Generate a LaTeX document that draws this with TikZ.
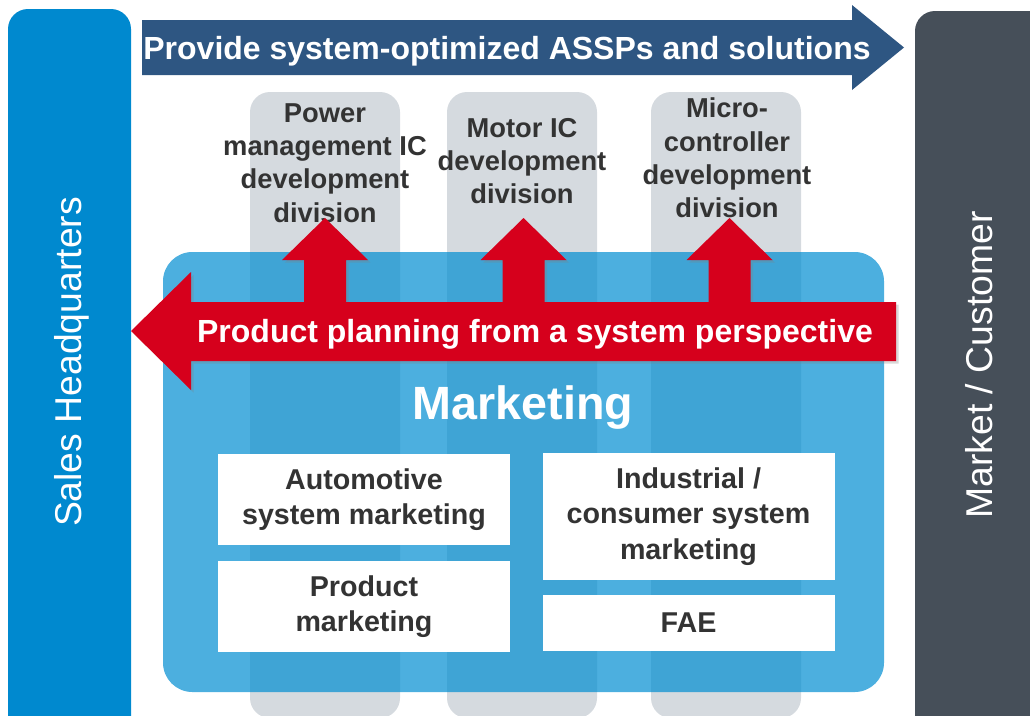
\documentclass[tikz,border=0pt]{standalone}
\usepackage{fontspec}
\setmainfont{Liberation Sans}
\usepackage{xcolor}
\usepackage{tikz}
\usetikzlibrary{shadows}
\definecolor{salesblue}{HTML}{0089CF}
\definecolor{mktblue}{HTML}{038ED2}
\definecolor{marketgray}{HTML}{464F59}
\definecolor{banner}{HTML}{2E5682}
\definecolor{colgray}{HTML}{D5DADF}
\definecolor{planred}{HTML}{D6001C}
\definecolor{darktext}{HTML}{333333}
\tikzset{
  sidetext/.style={rotate=90, text=white, font=\fontsize{28}{32}\selectfont},
  divtext/.style={align=center, text=darktext, font=\fontsize{20.5}{25}\selectfont\bfseries},
  mktbox/.style={fill=white, align=center, text=darktext, minimum width=219pt,
                 inner sep=0pt, font=\fontsize{21.5}{26.5}\selectfont\bfseries},
  colbar/.style={fill=colgray, rounded corners=15pt},
  bigtext/.style={text=white, font=\fontsize{24}{28}\selectfont\bfseries}
}

\begin{document}
\begin{tikzpicture}[x=0.75pt, y=-0.75pt]
\useasboundingbox (0,0) rectangle (1030,715);
\fill[salesblue, rounded corners=15pt] (8,9) rectangle (131,760);
\fill[marketgray, rounded corners=15pt] (915,11) rectangle (1060,760);
\node[sidetext] (sales) at (72,362) {Sales Headquarters};
\node[sidetext] (market) at (979,365) {Market / Customer};

\foreach \x in {250,447,651}
  \fill[colbar] (\x,92) rectangle ++(150,626);

\fill[banner] (142,20) -- (852,20) -- (852,5) -- (904,47.5) -- (852,90) -- (852,75) -- (142,75) -- cycle;
\node[bigtext] (provide) at (507,51) {Provide system-optimized ASSPs and solutions};

\node[divtext] (pmic) at (325,163) {Power\\management IC\\development\\division};
\node[divtext] (motor) at (522,161) {Motor IC\\development\\division};
\node[divtext] (mcu) at (727,158) {Micro-\\controller\\development\\division};

\fill[mktblue, fill opacity=0.71, rounded corners=22pt] (163,252) rectangle (884,692);
\node[text=white, font=\fontsize{35}{40}\selectfont\bfseries] (mkt) at (523,408) {Marketing};

\node[mktbox, minimum height=68.25pt] (auto) at (364,499.5) {Automotive\\system marketing};
\node[mktbox, minimum height=68.25pt] (prod) at (364,606.5) {Product\\marketing};
\node[mktbox, minimum height=95.25pt] (indus) at (688.5,516.5) {Industrial /\\consumer system\\marketing};
\node[mktbox, minimum height=42pt] (fae) at (688.5,623) {FAE};

\fill[planred, drop shadow={shadow xshift=2pt, shadow yshift=-2pt, opacity=0.3}]
  (131,331) -- (191,272) -- (191,302)
  \foreach \c in {325,523.5,729.5} {
    -- (\c-21,302) -- (\c-21,260) -- (\c-43,260) -- (\c,218)
    -- (\c+43,260) -- (\c+21,260) -- (\c+21,302)
  }
  -- (896,302) -- (896,361) -- (191,361) -- (191,390) -- cycle;
\node[bigtext] (plan) at (535,334) {Product planning from a system perspective};
\end{tikzpicture}
\end{document}
